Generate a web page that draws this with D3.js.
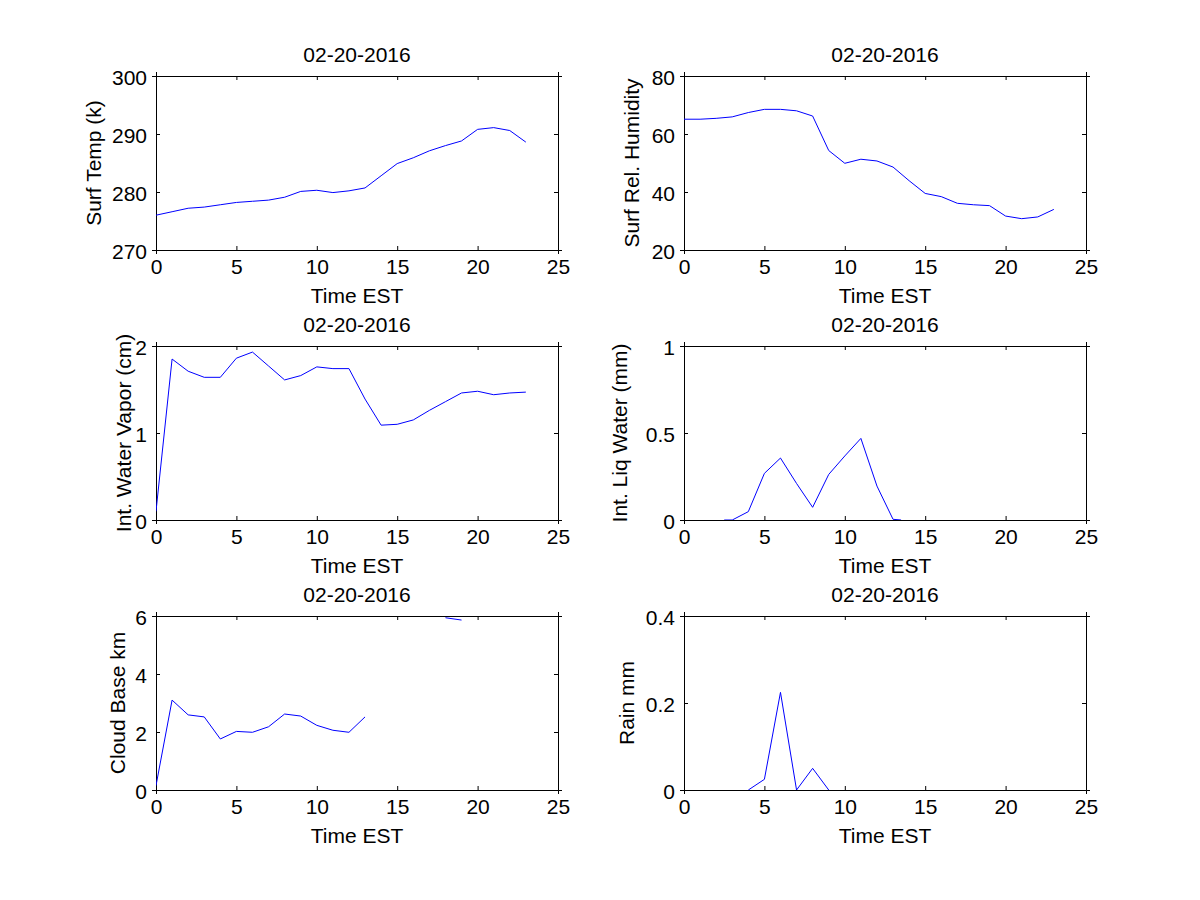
<!DOCTYPE html>
<html>
<head>
<meta charset="utf-8">
<script src="https://cdn.jsdelivr.net/npm/d3@7"></script>
<style>
  body { margin: 0; background: #fff; }
  svg { display: block; }
  text { font-family: "Liberation Sans", Arial, sans-serif; font-size: 21px; fill: #000; }
</style>
</head>
<body>
<svg id="chart" width="1200" height="900"></svg>
<script>
// ---- data ----
const hours = d3.range(0, 24);               // 0..23 hourly
const titleText = "02-20-2016";
const xLabel = "Time EST";
const xTicks = [0, 5, 10, 15, 20, 25];

const surfTemp = [276.0, 276.6, 277.2, 277.4, 277.8, 278.2, 278.4, 278.6, 279.1, 280.1, 280.3, 279.9,
                  280.2, 280.7, 282.8, 284.9, 285.9, 287.1, 288.0, 288.8, 290.8, 291.1, 290.6, 288.6];
const surfRH = [65.1, 65.1, 65.4, 65.9, 67.4, 68.5, 68.5, 68.0, 66.2, 54.3, 49.9, 51.3,
                50.7, 48.6, 43.9, 39.5, 38.4, 36.1, 35.6, 35.3, 31.7, 30.8, 31.4, 34.0];
const waterVapor = [0.10, 1.85, 1.71, 1.64, 1.64, 1.86, 1.93, 1.77, 1.61, 1.66, 1.76, 1.74,
                    1.74, 1.39, 1.09, 1.10, 1.15, 1.26, 1.36, 1.46, 1.48, 1.44, 1.46, 1.47];
const liqTimes = [2.5, 3, 4, 5, 6, 7, 8, 9, 10, 11, 12, 13, 13.5];
const liqWater = [0.0, 0.0, 0.048, 0.268, 0.356, 0.21, 0.073, 0.262, 0.368, 0.469, 0.195, 0.004, 0.0];
const cloudBase = [0.15, 3.10, 2.59, 2.52, 1.76, 2.02, 1.99, 2.18, 2.62, 2.55, 2.23, 2.06,
                   1.99, 2.52, null, null, null, null, 5.94, 5.86, null, null, null, null];
const rain = [null, null, null, null, 0.0, 0.0245, 0.2245, 0.0, 0.0498, 0.0, null, null,
              null, null, null, null, null, null, null, null, null, null, null, null];

const panels = [
  { ylabel: "Surf Temp (k)",         t: hours,    v: surfTemp,   ydom: [270, 300], yticks: [270, 280, 290, 300], col: 0, row: 0, lx: 101 },
  { ylabel: "Surf Rel. Humidity",    t: hours,    v: surfRH,     ydom: [20, 80],   yticks: [20, 40, 60, 80],     col: 1, row: 0, lx: 639 },
  { ylabel: "Int. Water Vapor (cm)", t: hours,    v: waterVapor, ydom: [0, 2],     yticks: [0, 1, 2],            col: 0, row: 1, lx: 131 },
  { ylabel: "Int. Liq Water (mm)",   t: liqTimes, v: liqWater,   ydom: [0, 1],     yticks: [0, 0.5, 1],          col: 1, row: 1, lx: 627 },
  { ylabel: "Cloud Base km",         t: hours,    v: cloudBase,  ydom: [0, 6],     yticks: [0, 2, 4, 6],         col: 0, row: 2, lx: 125 },
  { ylabel: "Rain mm",               t: hours,    v: rain,       ydom: [0, 0.4],   yticks: [0, 0.2, 0.4],        col: 1, row: 2, lx: 634 }
];

// ---- layout ----
const colX = [[156, 558], [684, 1086]];
const rowY = [[76, 250], [346, 520], [616, 790]];
const tickLen = 4;
const fontSize = "21px";

const svg = d3.select("#chart");

panels.forEach((p, i) => {
  const [x0, x1] = colX[p.col];
  const [y0, y1] = rowY[p.row];
  const x = d3.scaleLinear().domain([0, 25]).range([x0, x1]);
  const y = d3.scaleLinear().domain(p.ydom).range([y1, y0]);
  const g = svg.append("g");
  const fmt = d => String(d);

  // clip
  const clipId = "clip" + i;
  svg.append("clipPath").attr("id", clipId).append("rect")
    .attr("x", x0).attr("y", y0).attr("width", x1 - x0).attr("height", y1 - y0);

  // axes (MATLAB-like boxed, inward ticks)
  const axB = d3.axisBottom(x).tickValues(xTicks).tickSize(tickLen).tickFormat(fmt).tickPadding(0);
  const axT = d3.axisTop(x).tickValues(xTicks).tickSize(tickLen).tickFormat("");
  const axL = d3.axisLeft(y).tickValues(p.yticks).tickSize(tickLen).tickFormat(fmt);
  const axR = d3.axisRight(y).tickValues(p.yticks).tickSize(tickLen).tickFormat("");

  const gB = g.append("g").attr("transform", `translate(0,${y1})`).call(axB);
  gB.selectAll(".tick line").attr("y2", -tickLen);
  gB.selectAll(".tick text").attr("y", 24).attr("dy", null);

  const gT = g.append("g").attr("transform", `translate(0,${y0})`).call(axT);
  gT.selectAll(".tick line").attr("y2", tickLen);

  const gL = g.append("g").attr("transform", `translate(${x0},0)`).call(axL);
  gL.selectAll(".tick line").attr("x2", tickLen);
  gL.selectAll(".tick text").attr("x", -9).attr("dy", null).attr("y", 8);

  const gR = g.append("g").attr("transform", `translate(${x1},0)`).call(axR);
  gR.selectAll(".tick line").attr("x2", -tickLen);

  g.selectAll(".domain").attr("stroke", "#000").attr("stroke-width", 1);
  g.selectAll(".tick line").attr("stroke", "#000").attr("stroke-width", 1);
  g.selectAll(".tick text").style("font-size", fontSize).style("font-family", '"Liberation Sans", Arial, sans-serif').attr("fill", "#000");

  // data line
  const data = p.t.map((t, k) => ({ t, v: p.v[k] }));
  const line = d3.line().defined(d => d.v !== null).x(d => x(d.t)).y(d => y(d.v));
  g.append("path").datum(data)
    .attr("clip-path", `url(#${clipId})`)
    .attr("fill", "none").attr("stroke", "#0000ff").attr("stroke-width", 1)
    .attr("d", line);

  // title
  g.append("text").attr("x", (x0 + x1) / 2).attr("y", y0 - 14)
    .attr("text-anchor", "middle").text(titleText);
  // x label
  g.append("text").attr("x", (x0 + x1) / 2).attr("y", y1 + 53)
    .attr("text-anchor", "middle").text(xLabel);
  // y label
  g.append("text")
    .attr("transform", `translate(${p.lx},${(y0 + y1) / 2}) rotate(-90)`)
    .attr("text-anchor", "middle").text(p.ylabel);
});
</script>
</body>
</html>
